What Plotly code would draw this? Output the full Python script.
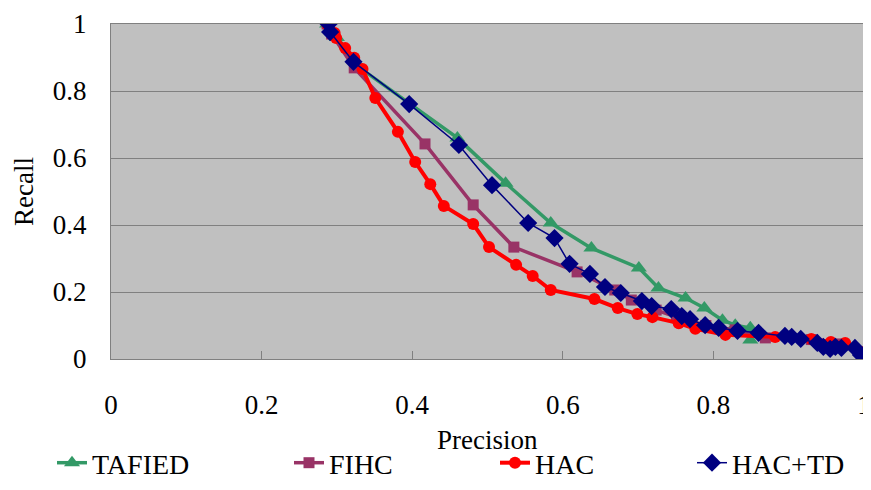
import plotly.graph_objects as go

series_names = ["TAFIED", "FIHC", "HAC", "HAC+TD"]

tafied_x = [0.287, 0.300, 0.330, 0.460, 0.524, 0.584, 0.638, 0.701, 0.727, 0.763, 0.788, 0.812, 0.829, 0.849, 0.849]
tafied_y = [1.000, 0.960, 0.870, 0.660, 0.525, 0.406, 0.331, 0.272, 0.212, 0.182, 0.152, 0.116, 0.101, 0.093, 0.057]

fihc_x = [0.287, 0.293, 0.323, 0.417, 0.481, 0.535, 0.619, 0.669, 0.691, 0.724, 0.751, 0.790, 0.829, 0.869, 0.930, 0.970, 1.000]
fihc_y = [1.000, 0.970, 0.869, 0.642, 0.460, 0.334, 0.260, 0.206, 0.176, 0.146, 0.125, 0.100, 0.087, 0.063, 0.058, 0.045, 0.020]

hac_x = [0.287, 0.297, 0.299, 0.311, 0.323, 0.334, 0.351, 0.381, 0.404, 0.424, 0.442, 0.481, 0.502, 0.538,
         0.560, 0.584, 0.642, 0.673, 0.699, 0.719, 0.754, 0.776, 0.816, 0.882, 0.930, 0.956, 0.975, 0.999]
hac_y = [1.000, 0.973, 0.958, 0.928, 0.899, 0.866, 0.779, 0.678, 0.588, 0.522, 0.457, 0.403, 0.334, 0.281,
         0.248, 0.206, 0.179, 0.152, 0.134, 0.125, 0.107, 0.090, 0.072, 0.066, 0.060, 0.051, 0.048, 0.020]

hactd_x = [0.289, 0.291, 0.322, 0.396, 0.462, 0.506, 0.554, 0.589, 0.609, 0.636, 0.656, 0.677, 0.705, 0.718,
           0.744, 0.758, 0.769, 0.789, 0.807, 0.832, 0.860, 0.895, 0.904, 0.916, 0.938, 0.946, 0.955, 0.962,
           0.970, 0.988, 0.996, 1.000]
hactd_y = [1.000, 0.976, 0.887, 0.761, 0.639, 0.519, 0.406, 0.361, 0.284, 0.254, 0.215, 0.197, 0.173, 0.158,
           0.149, 0.128, 0.119, 0.101, 0.093, 0.084, 0.078, 0.069, 0.066, 0.060, 0.048, 0.036, 0.030, 0.036,
           0.033, 0.033, 0.012, 0.005]

tick_vals = [0, 0.2, 0.4, 0.6, 0.8, 1]
tick_text = ["0", "0.2", "0.4", "0.6", "0.8", "1"]
x_title = "Precision"
y_title = "Recall"

FONT = "Liberation Serif, Times New Roman, serif"
GRID = "#808080"
W, H = 863, 482  # page body has an 8px margin
M_T, M_B = 16, 131

fig = go.Figure()
fig.add_trace(go.Scatter(x=tafied_x, y=tafied_y, name=series_names[0], mode="lines+markers",
                         line=dict(color="#339966", width=3.5),
                         marker=dict(symbol="triangle-up", size=14, color="#339966"), legend="legend"))
fig.add_trace(go.Scatter(x=fihc_x, y=fihc_y, name=series_names[1], mode="lines+markers",
                         line=dict(color="#993366", width=3.5),
                         marker=dict(symbol="square", size=11, color="#993366"), legend="legend2"))
fig.add_trace(go.Scatter(x=hac_x, y=hac_y, name=series_names[2], mode="lines+markers",
                         line=dict(color="#FF0000", width=4),
                         marker=dict(symbol="circle", size=12, color="#FF0000"), legend="legend3"))
fig.add_trace(go.Scatter(x=hactd_x, y=hactd_y, name=series_names[3], mode="lines+markers",
                         line=dict(color="#000080", width=1.5),
                         marker=dict(symbol="diamond", size=14, color="#000080"), legend="legend4"))

leg_y = 1 - 455 / H
leg_common = dict(orientation="h", xref="container", yref="container", yanchor="middle", xanchor="left",
                  font=dict(family=FONT, size=28, color="black"), bgcolor="rgba(0,0,0,0)")
plot_h = H - M_T - M_B
fig.update_layout(
    width=W, height=H,
    showlegend=True,
    margin=dict(l=103, r=7, t=M_T, b=M_B, autoexpand=False),
    paper_bgcolor="white", plot_bgcolor="#C0C0C0",
    font=dict(family=FONT, size=27, color="black"),
    legend=dict(x=44 / W, y=leg_y, **leg_common),
    legend2=dict(x=281 / W, y=leg_y, **leg_common),
    legend3=dict(x=487 / W, y=leg_y, **leg_common),
    legend4=dict(x=684 / W, y=leg_y, **leg_common),
    xaxis=dict(range=[0, 1], tickvals=tick_vals, ticktext=tick_text, showgrid=False, zeroline=False,
               showline=True, linecolor=GRID, linewidth=1, mirror=True, automargin=False,
               ticks="inside", ticklen=8, tickcolor=GRID, ticklabelstandoff=22,
               ticklabeloverflow="allow"),
    yaxis=dict(range=[0, 1], tickvals=tick_vals, ticktext=tick_text, showgrid=True, gridcolor=GRID,
               gridwidth=1, zeroline=False, showline=True, linecolor=GRID, linewidth=1, mirror=True,
               automargin=False, ticklabelstandoff=18, ticklabeloverflow="allow",
               title=dict(text=y_title, font=dict(family=FONT, size=27), standoff=11)),
    annotations=[dict(text=x_title, xref="paper", yref="paper", x=0.5, y=-(432 - (H - M_B)) / plot_h,
                      xanchor="center", yanchor="middle", showarrow=False,
                      font=dict(family=FONT, size=27, color="black"))],
)
fig.write_html("out.html")
